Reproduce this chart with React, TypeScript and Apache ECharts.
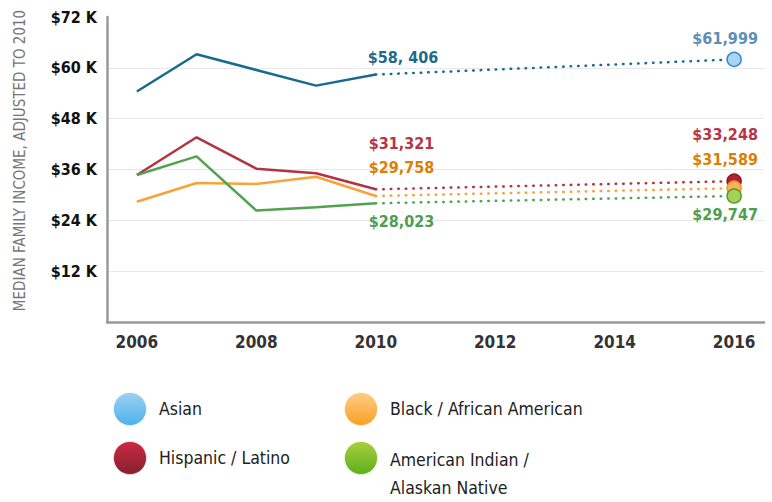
import React, { useEffect, useRef } from "react";
import * as echarts from "echarts";

const years = ["2006", "2007", "2008", "2009", "2010", "2011", "2012", "2013", "2014", "2015", "2016"];

const seriesNames = ["Asian", "Hispanic / Latino", "Black / African American", "American Indian / Alaskan Native"];
// observed 2006-2010 (thousands of dollars)
const asianObserved = [54.4, 63.2, 59.5, 55.8, 58.406];
const hispanicObserved = [34.7, 43.6, 36.2, 35.1, 31.321];
const blackObserved = [28.4, 32.8, 32.6, 34.3, 29.758];
const nativeObserved = [34.7, 39.1, 26.3, 27.1, 28.023];
// projected 2016
const asian2016 = 61.999;
const hispanic2016 = 33.248;
const black2016 = 31.589;
const native2016 = 29.747;

const label2010 = ["$58, 406", "$31,321", "$29,758", "$28,023"];
const label2016 = ["$61,999", "$33,248", "$31,589", "$29,747"];

const FONT = "'DejaVu Sans Condensed', 'Liberation Sans Narrow', sans-serif";

const lineColors = ["#176b8e", "#b03444", "#f8a33a", "#52a24f"];
const label2010Colors = ["#1d6b8c", "#b83444", "#da8004", "#4e9e4e"];
const label2016Colors = ["#5b8fb5", "#b83444", "#da8004", "#4e9e4e"];
const markerFill = ["#a9d5f2", "#b02232", "#f9b25c", "#a6cf5c"];
const markerBorder = ["#2a88d6", "#8e1a28", "#f99321", "#4ba024"];
const offsets2010 = [[-8, -17], [-7, -46], [-7, -28], [-7, 18]];
const offsets2016 = [[-9, -21], [-9, -47], [-9, -29], [-9, 19]];

const legendTop = ["#9fd0ef", "#cc2a42", "#ffcd88", "#a9cf3c"];
const legendBottom = ["#4cb2ee", "#84202e", "#f8a020", "#5fae1e"];

export default function App() {
  const ref = useRef<HTMLDivElement>(null);
  useEffect(() => {
    document.body.style.margin = "0";
    if (!ref.current) return;
    const chart = echarts.init(ref.current, undefined, { renderer: "svg" });
    const observed = [asianObserved, hispanicObserved, blackObserved, nativeObserved];
    const projected = [asian2016, hispanic2016, black2016, native2016];
    const series: any[] = [];
    observed.forEach((obs, i) => {
      series.push({
        type: "line",
        name: seriesNames[i],
        data: obs,
        showSymbol: false,
        lineStyle: { color: lineColors[i], width: 2.5 },
        itemStyle: { color: lineColors[i] },
        z: 2 + i,
      });
    });
    const labelBase = {
      show: true,
      position: "inside",
      verticalAlign: "middle",
      fontFamily: FONT,
      fontWeight: "bold",
      fontSize: 16,
    };
    observed.forEach((obs, i) => {
      const data: any[] = years.map(() => null);
      const last = obs.length - 1;
      data[last] = {
        value: obs[last],
        symbolSize: 0,
        label: {
          ...labelBase,
          formatter: label2010[i],
          align: "left",
          offset: offsets2010[i],
          color: label2010Colors[i],
        },
      };
      data[years.length - 1] = {
        value: projected[i],
        symbol: "circle",
        symbolSize: 14,
        itemStyle: { color: markerFill[i], borderColor: markerBorder[i], borderWidth: 1.5 },
        label: {
          ...labelBase,
          formatter: label2016[i],
          align: "center",
          offset: offsets2016[i],
          color: label2016Colors[i],
        },
      };
      series.push({
        type: "line",
        name: seriesNames[i] + " projection",
        data,
        connectNulls: true,
        showSymbol: true,
        symbol: "circle",
        lineStyle: { color: lineColors[i], width: 2.5, type: [0.5, 7], cap: "round" },
        itemStyle: { color: lineColors[i] },
        z: 10 + i,
      });
    });

    const legendItems: any[] = [];
    const pos = [
      [130, 409],
      [130, 458],
      [361, 409],
      [361, 458],
    ];
    seriesNames.forEach((n, i) => {
      const [cx, cy] = pos[i];
      legendItems.push({
        type: "circle",
        shape: { cx, cy, r: 16.5 },
        style: {
          fill: new echarts.graphic.LinearGradient(0, 0, 0, 1, [
            { offset: 0, color: legendTop[i] },
            { offset: 1, color: legendBottom[i] },
          ]),
          stroke: "rgba(255,255,255,0.6)",
          lineWidth: 1,
        },
      });
      const lines = i === 3 ? ["American Indian /", "Alaskan Native"] : [n];
      lines.forEach((t, k) => {
        legendItems.push({
          type: "text",
          x: cx + 29,
          y: cy + (i === 3 ? 2 + k * 28 : 0),
          style: {
            text: t,
            fill: "#222",
            font: `17.5px ${FONT}`,
            textVerticalAlign: "middle",
            textAlign: "left",
          },
        });
      });
    });

    chart.setOption({
      animation: false,
      grid: { left: 107, right: 8, top: 17, bottom: 180, containLabel: false },
      xAxis: {
        type: "category",
        data: years,
        boundaryGap: true,
        axisLine: { lineStyle: { color: "#9a9a9a", width: 2.5 } },
        axisTick: { interval: 0, length: 4, lineStyle: { color: "#cfcfcf" } },
        axisLabel: {
          interval: 1,
          color: "#333",
          fontFamily: FONT,
          fontWeight: "bold",
          fontSize: 17,
          margin: 11,
        },
        splitLine: { show: false },
      },
      yAxis: {
        type: "value",
        min: 0,
        max: 72,
        interval: 12,
        name: "MEDIAN FAMILY INCOME, ADJUSTED TO 2010",
        nameLocation: "middle",
        nameGap: 80,
        nameTextStyle: { color: "#777", fontFamily: FONT, fontSize: 15, padding: [0, 0, 0, 18] },
        axisLine: { show: true, lineStyle: { color: "#9a9a9a", width: 2.5 } },
        axisTick: { show: false },
        axisLabel: {
          showMinLabel: false,
          formatter: (v: number) => `$${v} K`,
          color: "#111",
          fontFamily: FONT,
          fontWeight: "bold",
          fontSize: 16,
          margin: 10,
        },
        splitLine: { show: true, showMinLine: false, showMaxLine: false, lineStyle: { color: "#e8e8e8", width: 1 } },
      },
      series,
      graphic: legendItems,
    });
    return () => chart.dispose();
  }, []);
  return <div ref={ref} style={{ width: 772, height: 502 }} />;
}
